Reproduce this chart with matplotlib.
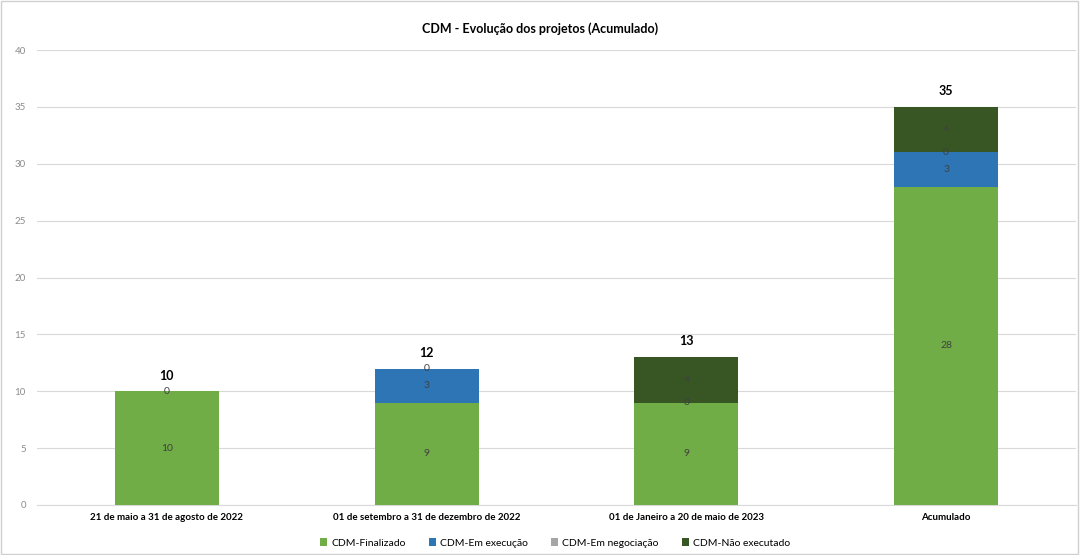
import matplotlib
matplotlib.use("Agg")
import matplotlib.pyplot as plt
import numpy as np

plt.rcParams['font.family'] = ['Lato', 'DejaVu Sans']

categories = ["21 de maio a 31 de agosto de 2022",
              "01 de setembro a 31 de dezembro de 2022",
              "01 de Janeiro a 20 de maio de 2023",
              "Acumulado"]
series_names = ["CDM-Finalizado", "CDM-Em execução", "CDM-Em negociação", "CDM-Não executado"]
finalizado = [10, 9, 9, 28]
execucao = [0, 3, 0, 3]
negociacao = [np.nan, 0, np.nan, 0]
nao_executado = [np.nan, np.nan, 4, 4]
totals = [10, 12, 13, 35]
colors = ["#70AD47", "#2E75B6", "#A5A5A5", "#375623"]

fig = plt.figure(figsize=(10.8, 5.55), dpi=100)
ax = fig.add_axes([37/1080, 1 - 505/555, (1076-37)/1080, 455/555])

x = np.arange(len(categories))
bottom = np.zeros(len(categories))
for vals, name, col in zip([finalizado, execucao, negociacao, nao_executado], series_names, colors):
    v = np.array(vals, dtype=float)
    h = np.nan_to_num(v)
    bars = ax.bar(x, h, 0.4, bottom=bottom, color=col, label=name, zorder=3)
    labels = ["" if np.isnan(val) else f"{int(val)}" for val in v]
    ax.bar_label(bars, labels=labels, label_type='center', fontsize=7.5, color='#404040', zorder=4)
    bottom = bottom + h

for xi, t in zip(x, totals):
    ax.annotate(f"{t}", (xi, t), xytext=(0, 7), textcoords='offset points',
                ha='center', va='bottom', fontsize=9, fontweight='bold', color='#000000')

ax.set_xlim(-0.5, 3.5)
ax.set_ylim(0, 40)
ax.set_yticks(range(0, 41, 5))
ax.set_xticks(x)
ax.set_xticklabels(categories, fontsize=7, fontweight='bold', color='#000000')
ax.tick_params(axis='y', labelsize=7, colors='#8c8c8c', length=0, pad=8)
ax.tick_params(axis='x', length=0, pad=6)
ax.yaxis.grid(True, color='#d9d9d9', linewidth=0.8, zorder=0)
for s in ['top', 'right', 'left']:
    ax.spines[s].set_visible(False)
ax.spines['bottom'].set_color('#d9d9d9')

fig.text(540/1080, 1 - 29/555, "CDM - Evolução dos projetos (Acumulado)", ha='center', va='center',
         fontsize=9, fontweight='bold', color='#000000')

leg = fig.legend(loc='center', bbox_to_anchor=(555/1080, 1 - 543/555), ncol=4, frameon=False,
                 fontsize=7.5, handlelength=0.7, handleheight=0.7, handletextpad=0.4, columnspacing=2.2)

fig.patches.append(plt.Rectangle((0.001, 0.002), 0.997, 0.996, transform=fig.transFigure,
                                 fill=False, edgecolor='#d0d0d0', linewidth=1))

fig.savefig("out.png", dpi=100)
